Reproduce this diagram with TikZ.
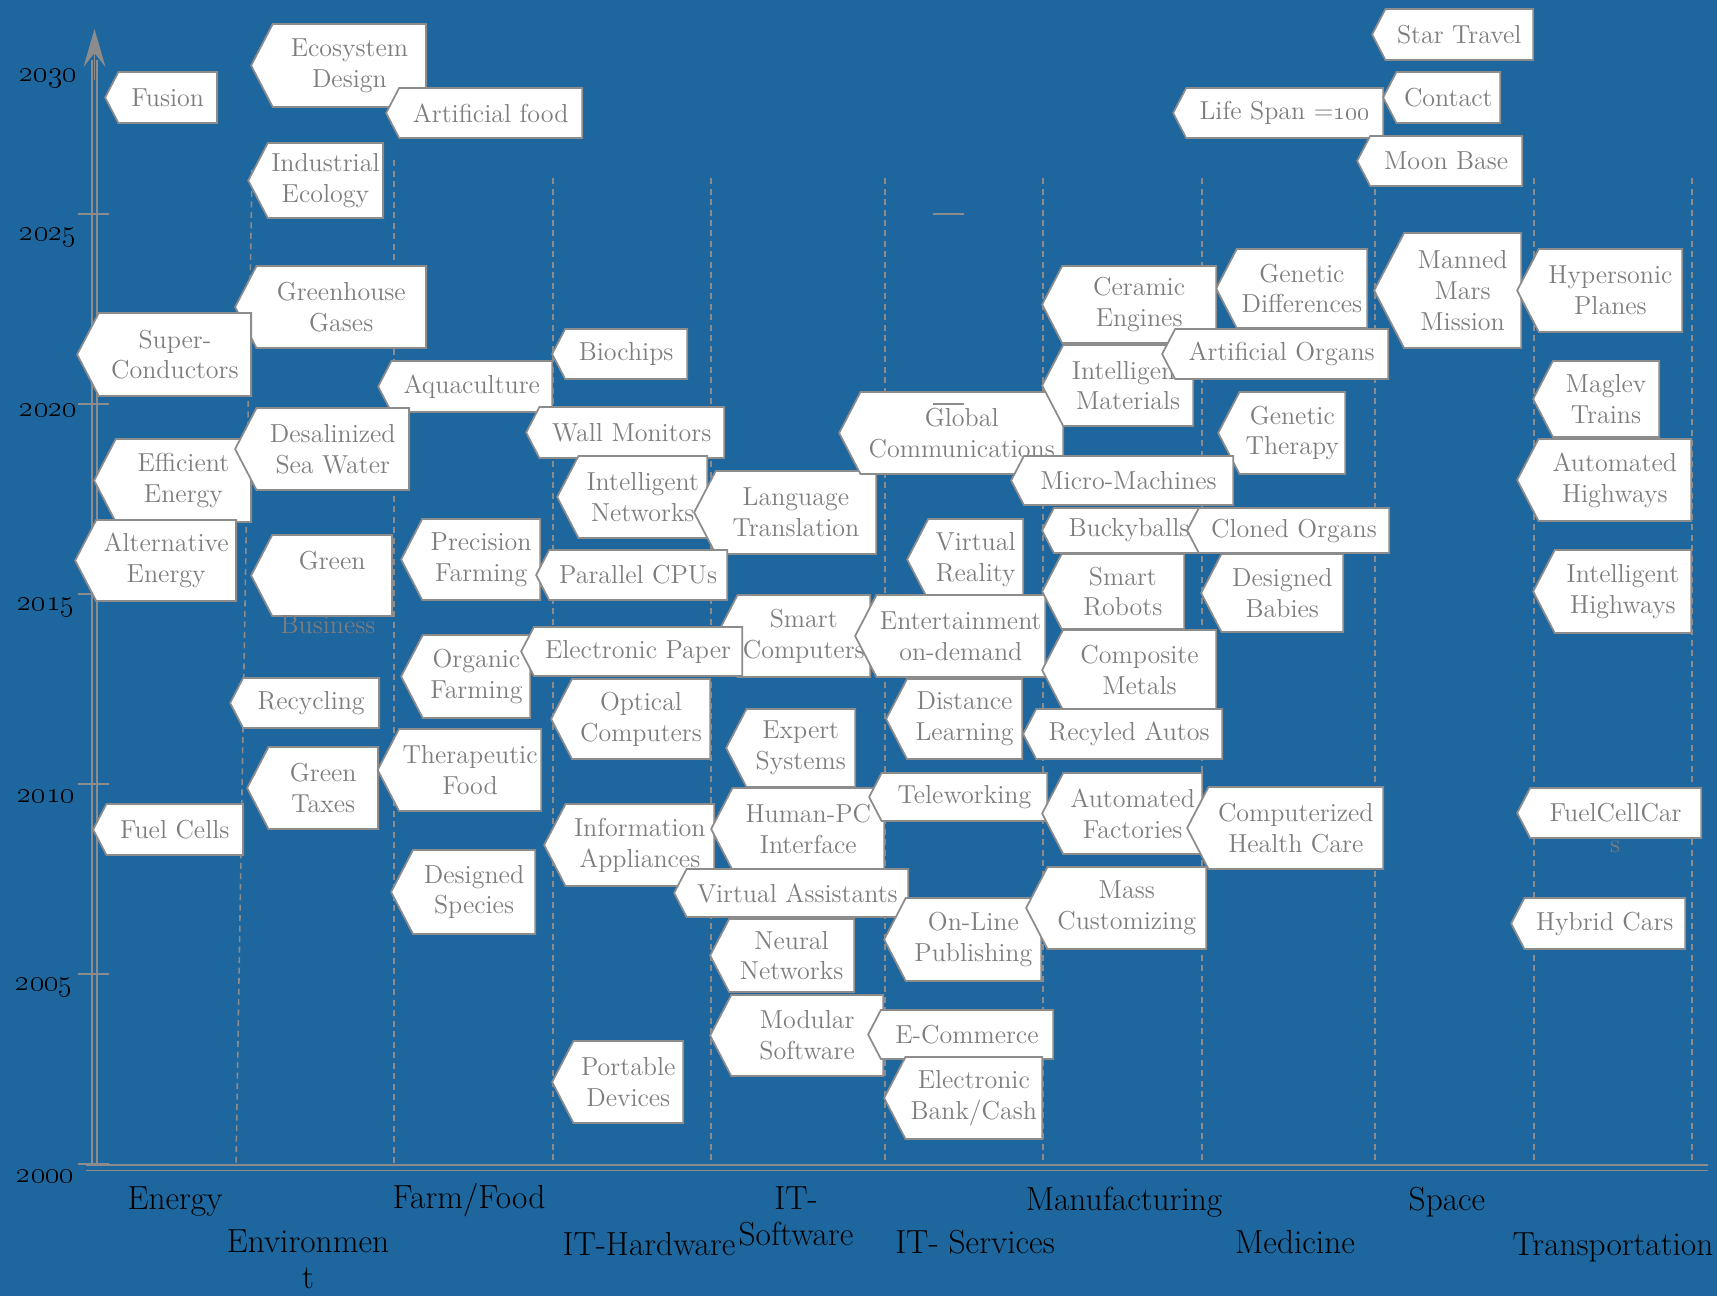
\documentclass[tikz,border=0pt]{standalone}
\usetikzlibrary{shapes.symbols,arrows.meta}
\definecolor{bgblue}{RGB}{29,102,158}
\definecolor{linegray}{RGB}{140,140,140}
\definecolor{textgray}{RGB}{125,125,125}
\newcommand{\boxfont}{\fontsize{14.8}{17.5}\selectfont}
\newcommand{\catfont}{\fontsize{19}{20.5}\selectfont}
\newcommand{\yearfont}{\fontsize{19}{20}\selectfont\bfseries}
\tikzset{
	tag/.style={signal, signal to=west, signal pointer angle=125, draw=linegray, fill=white, line width=1pt, text=textgray, font=\boxfont, align=center, inner xsep=2pt, inner ysep=1pt, anchor=east},
	boxsize/.style 2 args={minimum width=#1*0.02cm, minimum height=#2*0.02cm},
	spill/.style={text=textgray, font=\boxfont, inner sep=0pt},
	catlabel/.style={text=black, font=\catfont, align=center, inner sep=0pt},
	yearlabel/.style={text=black, font=\yearfont, inner sep=0pt},
	colline/.style={linegray, line width=0.9pt, dash pattern=on 0.12cm off 0.09cm},
	axisline/.style={linegray, line width=1pt}
}
\begin{document}
\begin{tikzpicture}[x=0.02cm, y=-0.02cm]
	\fill[bgblue] (0,0) rectangle (1717,1296);
	\useasboundingbox (0,0) rectangle (1717,1296);

	\draw[colline] (252,170) -- (236,1165);
	\draw[colline] (394,160) -- (394,1165);
	\foreach \cx in {553,711,885,1043,1202,1375,1534,1692}
		\draw[colline] (\cx,178) -- (\cx,1165);

	\coordinate (ytop) at (94.5,29);
	\coordinate (ybase) at (94.5,80);
	\draw[axisline] (92,1164) -- (92,60);
	\draw[axisline] (97,1164) -- (97,60);
	\draw[axisline, -{Stealth[length=0.76cm, width=0.44cm, inset=0.28cm]}] (ybase) -- (ytop);
	\draw[axisline] (86,1165) -- (1708,1165);
	\draw[axisline] (86,1170.5) -- (1708,1170.5);
	\foreach \ty in {214,404,594,784,974,1164}
		\draw[axisline] (78,\ty) -- (109,\ty);
	\draw[axisline] (933,214) -- (964,214);

	\foreach \yx/\yy/\yr in {48/78/2030, 48.5/237/2025, 48.5/410/2020, 46/607/2015, 46/796/2010, 44.5/987/2005, 45.5/1176/2000}
		\node (yr\yr) at (\yx,\yy) [yearlabel] {\oldstylenums{\yr}};

	\node (fusion)		at (218,97.5)	[tag, boxsize={112}{51}] {Fusion};
	\node (ecodesign)	at (427,65.5)	[tag, boxsize={175}{83}] {Ecosystem\\Design};
	\node (artfood)		at (583,113)	[tag, boxsize={196}{50}] {Artificial food};
	\node (indecology)	at (384,180.5)	[tag, boxsize={131}{75}] {Industrial\\Ecology};
	\node (greenhouse)	at (427,307)	[tag, boxsize={191}{82}] {Greenhouse\\Gases};
	\node (supercond)	at (252,354.5)	[tag, boxsize={174}{83}] {Super-\\Conductors};
	\node (aquacult)	at (553,386.5)	[tag, boxsize={174}{51}] {Aquaculture};
	\node (biochips)	at (688,354)	[tag, boxsize={135}{50}] {Biochips};
	\node (effenergy)	at (252,480.5)	[tag, boxsize={157}{83}] {Efficient\\Energy};
	\node (desal)		at (410,449)	[tag, boxsize={174}{82}] {Desalinized\\Sea Water};
	\node (altenergy)	at (237,560.5)	[tag, boxsize={161}{81}] {Alternative\\Energy};
	\node (greenbiz)	at (393,575.5)	[tag, boxsize={141}{81}] {Green\\\mbox{}};
	\node (bizspill)	at (328,625)	[spill] {Business};
	\node (recycling)	at (380,703)	[tag, boxsize={149}{50}] {Recycling};
	\node (greentax)	at (379,788)	[tag, boxsize={131}{82}] {Green\\Taxes};
	\node (fuelcells)	at (244,829.5)	[tag, boxsize={150}{51}] {Fuel Cells};

	\node (wallmon)		at (725,432.5)	[tag, boxsize={198}{51}] {Wall Monitors};
	\node (intnet)		at (708,497)	[tag, boxsize={150}{82}] {Intelligent\\Networks};
	\node (langtrans)	at (877,512.5)	[tag, boxsize={182}{83}] {Language\\Translation};
	\node (precfarm)	at (541,559.5)	[tag, boxsize={139}{81}] {Precision\\Farming};
	\node (parcpu)		at (728,575)	[tag, boxsize={191}{50}] {Parallel CPUs};
	\node (orgfarm)		at (531,676.5)	[tag, boxsize={129}{83}] {Organic\\Farming};
	\node (smartcomp)	at (871,636)	[tag, boxsize={154}{82}] {Smart\\Computers};
	\node (elpaper)		at (743,651.5)	[tag, boxsize={221}{49}] {Electronic Paper};
	\node (optcomp)		at (711,719)	[tag, boxsize={159}{80}] {Optical\\Computers};
	\node (therafood)	at (542,770)	[tag, boxsize={162}{82}] {Therapeutic\\Food};
	\node (expsys)		at (856,748)	[tag, boxsize={129}{78}] {Expert\\Systems};
	\node (infoapp)		at (715,845)	[tag, boxsize={170}{82}] {Information\\Appliances};
	\node (humanpc)		at (885,829)	[tag, boxsize={173}{82}] {Human-PC\\Interface};
	\node (desspecies)	at (536,892)	[tag, boxsize={144}{84}] {Designed\\Species};
	\node (virtassist)	at (909,893)	[tag, boxsize={234}{48}] {Virtual Assistants};
	\node (neuralnet)	at (855,955.5)	[tag, boxsize={144}{73}] {Neural\\Networks};
	\node (modsoft)		at (884,1035.5)	[tag, boxsize={173}{81}] {Modular\\Software};
	\node (portdev)		at (684,1082)	[tag, boxsize={131}{82}] {Portable\\Devices};

	\node (globalcomm)	at (1064,433)	[tag, boxsize={224}{82}] {Global\\Communications};
	\draw[axisline] (933,404) -- (964,404);
	\node (virtreal)	at (1024,559.5)	[tag, boxsize={116}{81}] {Virtual\\Reality};
	\node (entertain)	at (1046,636)	[tag, boxsize={176}{82}] {Entertainment\\on-demand};
	\node (distlearn)	at (1023,719)	[tag, boxsize={136}{80}] {Distance\\Learning};
	\node (telework)	at (1048,797)	[tag, boxsize={178}{48}] {Teleworking};
	\node (onlinepub)	at (1042,939.5)	[tag, boxsize={157}{83}] {On-Line\\Publishing};
	\node (ecommerce)	at (1054,1034.5)	[tag, boxsize={185}{49}] {E-Commerce};
	\node (ebank)		at (1043,1098)	[tag, boxsize={158}{82}] {Electronic\\Bank/Cash};

	\node (genediff)	at (1368,288.5)	[tag, boxsize={151}{79}] {Genetic\\Differences};
	\node (ceramic)		at (1217,304.5)	[tag, boxsize={174}{77}] {Ceramic\\Engines};
	\node (intmat)		at (1194,385.5)	[tag, boxsize={151}{81}] {Intelligent\\Materials};
	\node (mannedmars)	at (1522,290.5)	[tag, boxsize={147}{115}] {Manned\\Mars\\Mission};
	\node (artorgans)	at (1389,354)	[tag, boxsize={226}{50}] {Artificial Organs};
	\node (genether)	at (1346,433)	[tag, boxsize={127}{82}] {Genetic\\Therapy};
	\node (micromach)	at (1234,480.5)	[tag, boxsize={222}{49}] {Micro-Machines};
	\node (buckyballs)	at (1205,530.5)	[tag, boxsize={162}{45}] {Buckyballs};
	\node (clonedorg)	at (1390,530.5)	[tag, boxsize={202}{45}] {Cloned Organs};
	\node (smartrob)	at (1185,591.5)	[tag, boxsize={142}{75}] {Smart\\Robots};
	\node (desbabies)	at (1344,593)	[tag, boxsize={142}{78}] {Designed\\Babies};
	\node (compmetal)	at (1217,670)	[tag, boxsize={174}{80}] {Composite\\Metals};
	\node (recautos)	at (1223,734)	[tag, boxsize={199}{50}] {Recyled Autos};
	\node (autofact)	at (1203,813.5)	[tag, boxsize={160}{81}] {Automated\\Factories};
	\node (comphealth)	at (1384,828)	[tag, boxsize={196}{82}] {Computerized\\Health Care};
	\node (masscust)	at (1207,908)	[tag, boxsize={180}{82}] {Mass\\Customizing};

	\node (lifespan)	at (1384,113)	[tag, boxsize={210}{50}] {Life Span =\oldstylenums{100}};
	\node (startravel)	at (1534,34.5)	[tag, boxsize={161}{51}] {Star Travel};
	\node (contact)		at (1501,97.5)	[tag, boxsize={117}{51}] {Contact};
	\node (moonbase)	at (1523,161)	[tag, boxsize={165}{50}] {Moon Base};

	\node (hypersonic)	at (1683,290.5)	[tag, boxsize={165}{83}] {Hypersonic\\Planes};
	\node (maglev)		at (1660,399)	[tag, boxsize={126}{76}] {Maglev\\Trains};
	\node (autohwy)		at (1692,480)	[tag, boxsize={174}{82}] {Automated\\Highways};
	\node (inthwy)		at (1692,591.5)	[tag, boxsize={158}{83}] {Intelligent\\Highways};
	\node (fuelcellcar)	at (1702,813)	[tag, boxsize={184}{50}] {FuelCellCar};
	\node (carspill)	at (1615,847)	[spill] {s};
	\node (hybridcars)	at (1686,923.5)	[tag, boxsize={174}{51}] {Hybrid Cars};

	\node (energy)		at (175,1202)	[catlabel] {Energy};
	\node (environ)		at (308,1259)	[catlabel] {Environmen\\t};
	\node (farmfood)	at (469,1200)	[catlabel] {Farm/Food};
	\node (ithard)		at (649,1244)	[catlabel] {IT-Hardware};
	\node (itsoft)		at (796,1216)	[catlabel] {IT-\\Software};
	\node (itserv)		at (975,1242)	[catlabel] {IT- Services};
	\node (manufact)	at (1124,1202)	[catlabel] {Manufacturing};
	\node (medicine)	at (1295,1242)	[catlabel] {Medicine};
	\node (space)		at (1447,1202)	[catlabel] {Space};
	\node (transport)	at (1613,1247)	[catlabel] {Transportation};

\end{tikzpicture}
\end{document}
